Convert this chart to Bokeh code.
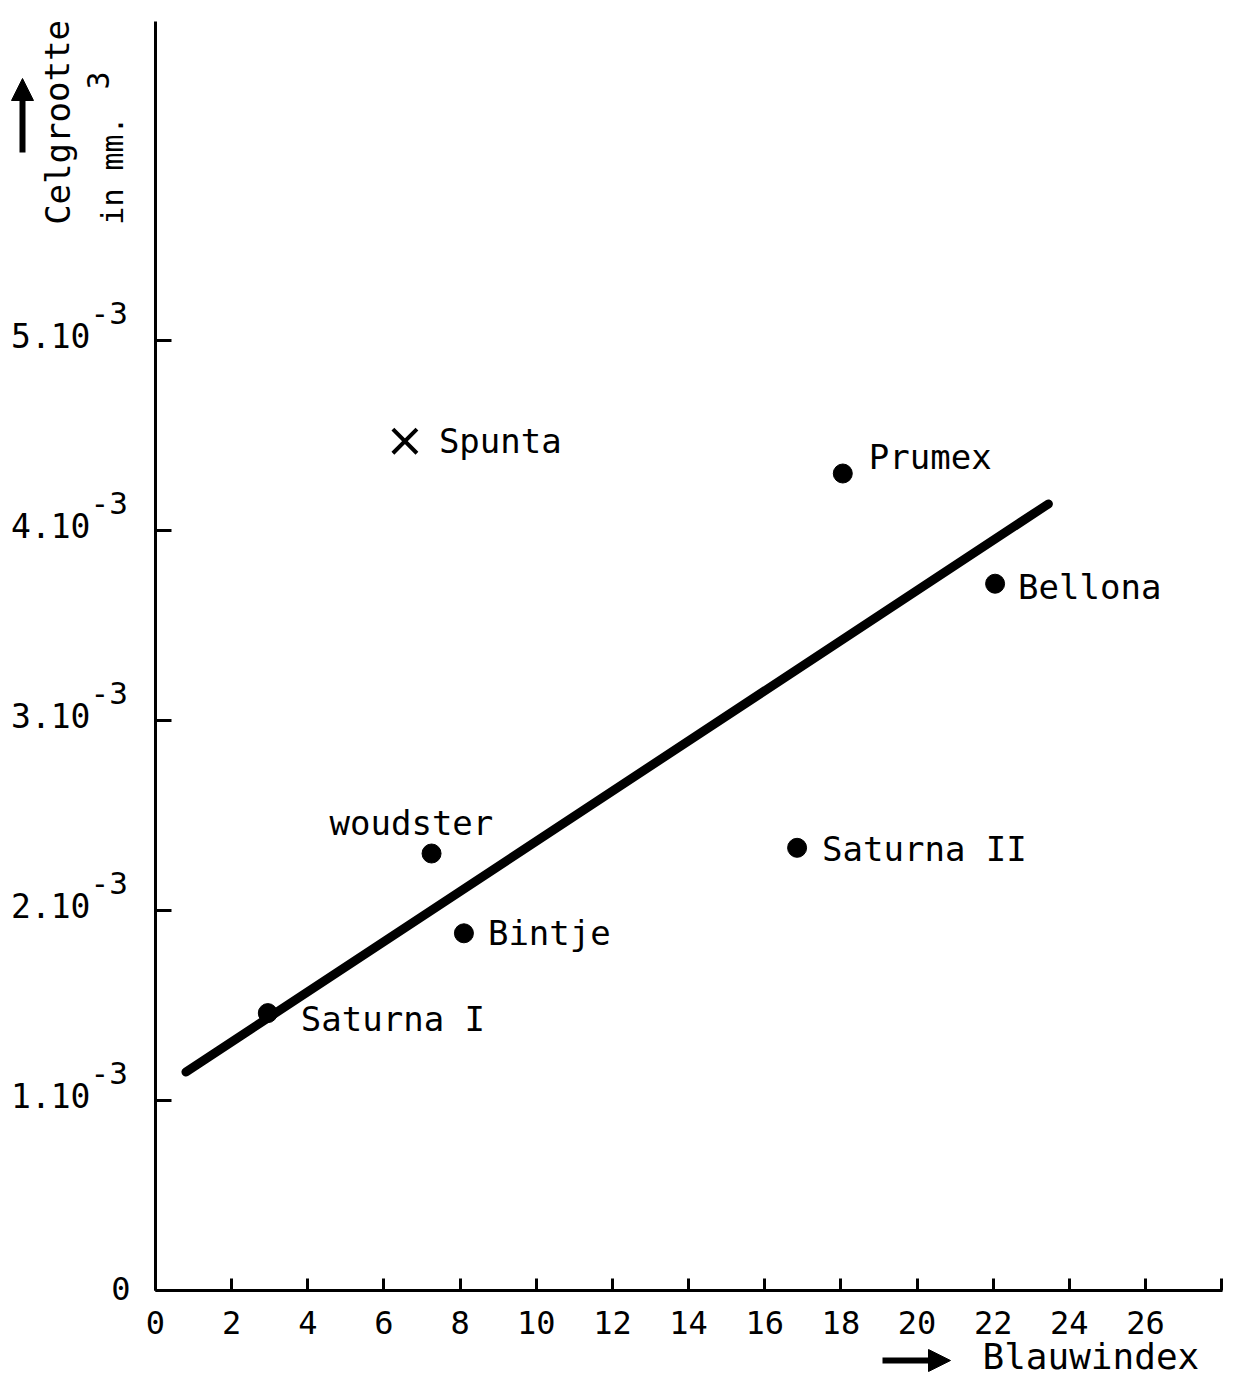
from bokeh.plotting import figure
from bokeh.models import (Range1d, FixedTicker, ColumnDataSource, LabelSet, Label,
                          Arrow, NormalHead)
from bokeh.core.properties import value
from bokeh.embed import file_html
from bokeh.resources import INLINE

# ---- data ----
varieties = ["Saturna I", "woudster", "Bintje", "Saturna II", "Prumex", "Bellona"]
blauwindex = [2.95, 7.25, 8.1, 16.85, 18.05, 22.05]
celgrootte = [1.46e-3, 2.30e-3, 1.88e-3, 2.33e-3, 4.30e-3, 3.72e-3]

spunta_name = ["Spunta"]
spunta_blauwindex = [6.55]
spunta_celgrootte = [4.47e-3]

fit_x = [0.8, 23.45]
fit_y = [1.15e-3, 4.14e-3]

x_ticks = [0, 2, 4, 6, 8, 10, 12, 14, 16, 18, 20, 22, 24, 26, 28]
x_tick_labels = ["0", "2", "4", "6", "8", "10", "12", "14", "16", "18", "20", "22", "24", "26", ""]
y_ticks = [0.0, 0.001, 0.002, 0.003, 0.004, 0.005]
y_tick_labels = ["0", "1.10", "2.10", "3.10", "4.10", "5.10"]
y_tick_exponents = ["", "-3", "-3", "-3", "-3", "-3"]

x_axis_end = 28.02
y_axis_end = 0.00668

x_title = "Blauwindex"
y_title = "Celgrootte"
y_unit = "in mm."
y_unit_exponent = "3"

# ---- layout (pixel offsets of the name labels) ----
label_dx = [33, -102, 24, 25, 26, 23]
label_dy = [-6, 31, 0, -1, 17, -3]

FONT = "DejaVu Sans Mono"
W, H = 1237, 1380
# frame covers the whole canvas; axes sit at fixed locations inside it
x0_px, x_per = 155.0, 38.077      # canvas x of Blauwindex 0, pixels per unit
y0_px, y_per = 1290.0, 190000.0   # canvas y of Celgrootte 0, pixels per unit

p = figure(width=W, height=H, output_backend="svg", toolbar_location=None,
           x_range=Range1d(-x0_px / x_per, (W - x0_px) / x_per),
           y_range=Range1d(-(H - y0_px) / y_per, y0_px / y_per),
           min_border=0, min_border_left=0, min_border_right=0,
           min_border_top=0, min_border_bottom=0)
p.outline_line_color = None
p.xgrid.visible = False
p.ygrid.visible = False
p.background_fill_color = "white"
p.border_fill_color = "white"

# x axis
p.xaxis.fixed_location = 0
p.xaxis.bounds = (0, x_axis_end)
p.xaxis.ticker = FixedTicker(ticks=x_ticks)
p.xaxis.major_label_overrides = {t: l for t, l in zip(x_ticks, x_tick_labels)}
p.xaxis.major_tick_in = 12
p.xaxis.major_tick_out = 0
p.xaxis.minor_tick_line_color = None
p.xaxis.axis_line_width = 3
p.xaxis.major_tick_line_width = 3
p.xaxis.major_label_standoff = 20
p.xaxis.major_label_text_font = FONT
p.xaxis.major_label_text_font_size = "32px"
p.xaxis.major_label_text_color = "black"

# y axis
p.yaxis.fixed_location = 0
p.yaxis.bounds = (0, y_axis_end)
p.yaxis.ticker = FixedTicker(ticks=y_ticks)
p.yaxis.major_label_overrides = {t: "" for t in y_ticks}
p.yaxis.major_tick_in = 16
p.yaxis.major_tick_out = 0
p.yaxis.minor_tick_line_color = None
p.yaxis.axis_line_width = 3
p.yaxis.major_tick_line_width = 3

# fitted line
p.line(fit_x, fit_y, line_width=9, line_color="black", line_cap="round")

# points
src = ColumnDataSource(dict(x=blauwindex, y=celgrootte, name=varieties,
                            dx=label_dx, dy=label_dy))
p.scatter("x", "y", source=src, marker="circle", size=19, fill_color="black",
          line_color="black")
p.add_layout(LabelSet(x="x", y="y", text="name", source=src, x_offset="dx",
                      y_offset="dy", text_font=value(FONT), text_font_size="34px",
                      text_baseline="middle", text_align="left",
                      text_color="black"))

ssrc = ColumnDataSource(dict(x=spunta_blauwindex, y=spunta_celgrootte, name=spunta_name))
p.scatter("x", "y", source=ssrc, marker="x", size=34, line_width=4, line_color="black")
p.add_layout(LabelSet(x="x", y="y", text="name", source=ssrc, x_offset=34, y_offset=0,
                      text_font=value(FONT), text_font_size="34px", text_baseline="middle",
                      text_align="left", text_color="black"))

# y tick labels
ysrc = ColumnDataSource(dict(x=[0] * (len(y_ticks) - 1), y=y_ticks[1:],
                             base=y_tick_labels[1:], exp=y_tick_exponents[1:]))
p.add_layout(LabelSet(x="x", y="y", text="base", source=ysrc, x_offset=-65, y_offset=5,
                      text_font=value(FONT), text_font_size="33px", text_baseline="middle",
                      text_align="right", text_color="black"))
p.add_layout(LabelSet(x="x", y="y", text="exp", source=ysrc, x_offset=-65, y_offset=28,
                      text_font=value(FONT), text_font_size="31px", text_baseline="middle",
                      text_align="left", text_color="black"))
p.add_layout(Label(x=0, y=y_ticks[0], text=y_tick_labels[0], x_offset=-25, y_offset=2,
                   text_font=FONT, text_font_size="32px", text_baseline="middle",
                   text_align="right", text_color="black"))

# axis titles
p.add_layout(Label(x=982, y=1356, x_units="canvas", y_units="canvas", text=x_title,
                   text_font=FONT, text_font_size="36px", text_baseline="middle",
                   text_align="left", text_color="black"))
p.add_layout(Arrow(x_start=882, y_start=1360, x_end=950, y_end=1360,
                   start_units="canvas", end_units="canvas", line_width=6,
                   end=NormalHead(size=22, fill_color="black", line_color="black")))
p.add_layout(Label(x=57, y=122, x_units="canvas", y_units="canvas", text=y_title,
                   angle=1.5708, text_font=FONT, text_font_size="34px",
                   text_baseline="middle", text_align="center", text_color="black"))
p.add_layout(Label(x=112, y=170, x_units="canvas", y_units="canvas", text=y_unit,
                   angle=1.5708, text_font=FONT, text_font_size="30px",
                   text_baseline="middle", text_align="center", text_color="black"))
p.add_layout(Label(x=97, y=80, x_units="canvas", y_units="canvas", text=y_unit_exponent,
                   angle=1.5708, text_font=FONT, text_font_size="30px",
                   text_baseline="middle", text_align="center", text_color="black"))
p.add_layout(Arrow(x_start=22, y_start=152, x_end=22, y_end=78,
                   start_units="canvas", end_units="canvas", line_width=6,
                   end=NormalHead(size=22, fill_color="black", line_color="black")))

open("out.html", "w").write(file_html(p, INLINE))
